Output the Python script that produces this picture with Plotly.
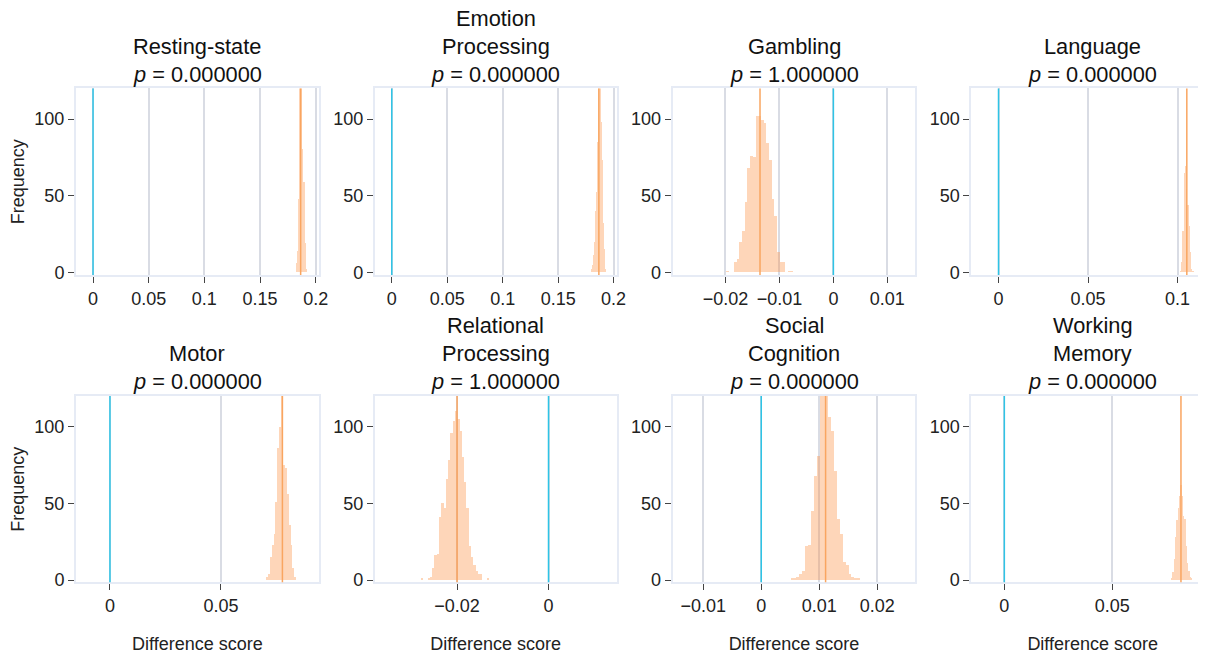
import plotly.graph_objects as go

# ---------------- data ----------------
task_lines = [["Resting-state"], ["Emotion", "Processing"], ["Gambling"], ["Language"],
              ["Motor"], ["Relational", "Processing"], ["Social", "Cognition"], ["Working", "Memory"]]
p_values = [0.0, 0.0, 1.0, 0.0, 0.0, 1.0, 0.0, 0.0]
observed = [0.1865, 0.1867, -0.0136, 0.1052, 0.0777, -0.0200, 0.0111, 0.0818]
null_value = 0.0

bin_start = [0.1820, 0.1790, -0.0200, 0.1015, 0.0703, -0.0280, 0.0050, 0.0773]
bin_width = [0.0010, 0.0010, 0.0005, 0.0007, 0.00085, 0.0005, 0.0005, 0.00062]

counts_resting = [6, 14, 48, 140, 220, 200, 80, 59, 19, 2]
counts_emotion = [2, 5, 11, 20, 40, 52, 85, 170, 190, 98, 73, 32, 15, 2]
counts_gambling = [1, 0, 0, 7, 9, 20, 27, 46, 68, 76, 75, 102, 102, 99, 97, 84,
                   73, 48, 37, 13, 7, 7, 0, 1, 1]
counts_language = [1, 7, 27, 65, 69, 54, 44, 30, 13, 2, 1]
counts_motor = [2, 4, 15, 23, 30, 51, 86, 100, 140, 75, 73, 56, 36, 23, 8, 2]
counts_relational = [1, 0, 0, 1, 2, 8, 16, 17, 41, 50, 47, 66, 78, 96, 104, 110,
                     105, 97, 80, 64, 47, 22, 15, 10, 6, 4, 4, 0, 0, 1]
counts_social = [1, 1, 2, 4, 6, 22, 23, 45, 68, 81, 125, 130, 125, 106, 97, 71,
                 40, 30, 12, 10, 4, 2, 1, 1]
counts_wm = [1, 5, 14, 28, 39, 47, 55, 62, 55, 42, 40, 22, 11, 6, 2, 1]

all_counts = [counts_resting, counts_emotion, counts_gambling, counts_language,
              counts_motor, counts_relational, counts_social, counts_wm]

x_ranges = [[-0.0153, 0.2028], [-0.0153, 0.2027], [-0.0298, 0.0152], [-0.0152, 0.1205],
            [-0.0153, 0.0941], [-0.0380, 0.0149], [-0.0153, 0.0266], [-0.0153, 0.0972]]
x_dticks = [0.05, 0.05, 0.01, 0.05, 0.05, 0.02, 0.01, 0.05]
y_range = [-1.5, 120]
y_ticks = [0, 50, 100]

# ---------------- layout ----------------
W, H = 1230, 655
col_px = [(68.5, 313.1), (369.5, 613.1), (669.5, 914.1), (970.4, 1215.1)]
row_px = [(81.4, 270.4), (392.8, 581.4)]
LINE_GAP = 28.3        # px between title lines
P_LINE_OFFSET = 14.3   # px from plot top to centre of the p-value line

FONT = "Liberation Sans, Arial, sans-serif"
BAR_FILL = "rgba(252,141,60,0.36)"
OBS_COLOR = "#F9A560"
NULL_COLOR = "#2EC4E6"
GRID = "#D9DCE4"
FRAME = "#E6EBF5"
TICK_SIZE = 18
TITLE_SIZE = 21.8

fig = go.Figure()
shapes = []
annotations = []

for i in range(8):
    r, c = divmod(i, 4)
    n = i + 1
    xa = "x" if n == 1 else f"x{n}"
    ya = "y" if n == 1 else f"y{n}"
    counts = all_counts[i]
    centers = [bin_start[i] + (k + 0.5) * bin_width[i] for k in range(len(counts))]
    fig.add_trace(go.Bar(x=centers, y=counts, width=bin_width[i],
                         marker=dict(color=BAR_FILL, line=dict(width=0)),
                         xaxis=xa, yaxis=ya, showlegend=False,
                         hoverinfo="x+y"))

    x0, x1 = col_px[c]
    y0, y1 = row_px[r]
    xdom = [x0 / W, x1 / W]
    ydom = [1 - y1 / H, 1 - y0 / H]
    xkey = "xaxis" if n == 1 else f"xaxis{n}"
    ykey = "yaxis" if n == 1 else f"yaxis{n}"
    xaxis = dict(domain=xdom, range=x_ranges[i], anchor=ya, tick0=0, dtick=x_dticks[i],
                 showgrid=True, gridcolor=GRID, gridwidth=1.5, zeroline=False,
                 showline=True, mirror=True, linecolor=FRAME, linewidth=2,
                 ticks="outside", ticklen=6, tickcolor="#444", tickwidth=1,
                 tickfont=dict(size=TICK_SIZE, color="#222", family=FONT))
    if r == 1:
        xaxis["title"] = dict(text="Difference score",
                              font=dict(size=TICK_SIZE, color="#222", family=FONT),
                              standoff=23)
    yaxis = dict(domain=ydom, range=y_range, anchor=xa, tickvals=y_ticks,
                 showgrid=False, zeroline=False,
                 showline=True, mirror=True, linecolor=FRAME, linewidth=2,
                 ticks="outside", ticklen=6, tickcolor="#444", tickwidth=1,
                 tickfont=dict(size=TICK_SIZE, color="#222", family=FONT))
    if c == 0:
        yaxis["title"] = dict(text="Frequency",
                              font=dict(size=TICK_SIZE, color="#222", family=FONT),
                              standoff=6)
    fig.update_layout(**{xkey: xaxis, ykey: yaxis})

    # null and observed lines
    shapes.append(dict(type="line", xref=xa, yref=f"{ya} domain", x0=null_value, x1=null_value,
                       y0=0, y1=1, line=dict(color=NULL_COLOR, width=1.5), layer="above"))
    shapes.append(dict(type="line", xref=xa, yref=f"{ya} domain", x0=observed[i], x1=observed[i],
                       y0=0, y1=1, line=dict(color=OBS_COLOR, width=1.5), layer="above"))

    # title lines (one annotation per line)
    lines = task_lines[i] + [f"<i>p</i> = {p_values[i]:.6f}"]
    xc = (xdom[0] + xdom[1]) / 2
    for j, txt in enumerate(lines):
        k = len(lines) - 1 - j
        ypix = y0 - P_LINE_OFFSET - k * LINE_GAP
        annotations.append(dict(text=txt, xref="paper", yref="paper", x=xc, y=1 - ypix / H,
                                xanchor="center", yanchor="middle", showarrow=False,
                                borderpad=0,
                                font=dict(size=TITLE_SIZE, color="#111", family=FONT)))

fig.update_layout(width=W, height=H, autosize=False,
                  margin=dict(l=0, r=0, t=0, b=0),
                  paper_bgcolor="white", plot_bgcolor="white",
                  bargap=0, barmode="overlay",
                  font=dict(family=FONT, color="#222"),
                  shapes=shapes, annotations=annotations)

fig.write_html("out.html")
